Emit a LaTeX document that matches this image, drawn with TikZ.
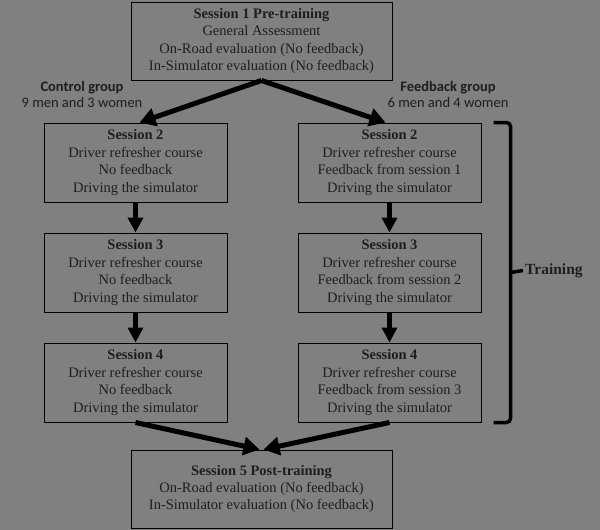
\documentclass[tikz,border=0pt]{standalone}
\usepackage{fontspec}
\setmainfont{Liberation Serif}
\newfontfamily\grpfont{Carlito}
\usetikzlibrary{positioning,arrows.meta,calc}
\definecolor{bggray}{RGB}{128,128,128}
\definecolor{txtgray}{RGB}{30,30,30}
\tikzstyle{sess} = [rectangle, draw=black, line width=1pt, text=txtgray, align=center, minimum width=183pt, minimum height=79pt, inner sep=2pt, font=\fontsize{14.5}{17.4}\selectfont, node distance=30pt]
\tikzstyle{sessW} = [sess, minimum width=261pt, minimum height=78pt]
\tikzstyle{grp} = [align=center, text=txtgray, font=\grpfont\fontsize{14.5}{16}\selectfont]
\tikzstyle{bigArr} = [-{Triangle[length=16pt,width=18pt]}, line width=5pt]
\tikzstyle{downArr} = [-{Triangle[length=15pt,width=15pt]}, line width=4.5pt]

\begin{document}
\begin{tikzpicture}[x=1pt, y=1pt]
\useasboundingbox[fill=bggray] (0,0) rectangle (600,-530);

% Define nodes
\node[sessW]                        (s1)  at (261.5,-41) {\textbf{Session 1 Pre-training}\\General Assessment\\On-Road evaluation (No feedback)\\In-Simulator evaluation (No feedback)};

\node[sess]                         (s2c) at (135.5,-162.5) {\textbf{Session 2}\\Driver refresher course\\No feedback\\Driving the simulator};
\node[sess, below = of s2c]         (s3c) {\textbf{Session 3}\\Driver refresher course\\No feedback\\Driving the simulator};
\node[sess, below = of s3c]         (s4c) {\textbf{Session 4}\\Driver refresher course\\No feedback\\Driving the simulator};

\node[sess, right = 70pt of s2c]    (s2f) {\textbf{Session 2}\\Driver refresher course\\Feedback from session 1\\Driving the simulator};
\node[sess, below = of s2f]         (s3f) {\textbf{Session 3}\\Driver refresher course\\Feedback from session 2\\Driving the simulator};
\node[sess, below = of s3f]         (s4f) {\textbf{Session 4}\\Driver refresher course\\Feedback from session 3\\Driving the simulator};

\node[sessW]                        (s5)  at (261.5,-489) {\textbf{Session 5 Post-training}\\On-Road evaluation (No feedback)\\In-Simulator evaluation (No feedback)};

\node[grp]                          (gc)  at (82,-94)  {\textbf{Control group}\\9 men and 3 women};
\node[grp]                          (gf)  at (448,-94) {\textbf{Feedback group}\\6 men and 4 women};

\node[anchor=west, text=txtgray, font=\bfseries\fontsize{15.5}{16}\selectfont, inner sep=2pt] (train) at (523,-270.5) {Training};

% Edges
\draw[bigArr]   (s1.south) -- ($(s2c.north)+(4,0)$);
\draw[bigArr]   (s1.south) -- ($(s2f.north)+(-4,0)$);
\draw[downArr]  (s2c) -- (s3c);
\draw[downArr]  (s3c) -- (s4c);
\draw[downArr]  (s2f) -- (s3f);
\draw[downArr]  (s3f) -- (s4f);
\draw[bigArr]   (s4c.south) -- ($(s5.north)+(-2,0)$);
\draw[bigArr]   (s4f.south) -- ($(s5.north)+(2,0)$);

% Bracket
\draw[line width=3.5pt, rounded corners=4pt] ($(s2f.north east)+(12,0)$) -| ($(s4f.south east)+(29,0)$) -- ($(s4f.south east)+(12,0)$);
\draw[line width=3.5pt] ($(s2f.east)!0.5!(s4f.east)+(29,0)$) -- (train.west);
\end{tikzpicture}
\end{document}
